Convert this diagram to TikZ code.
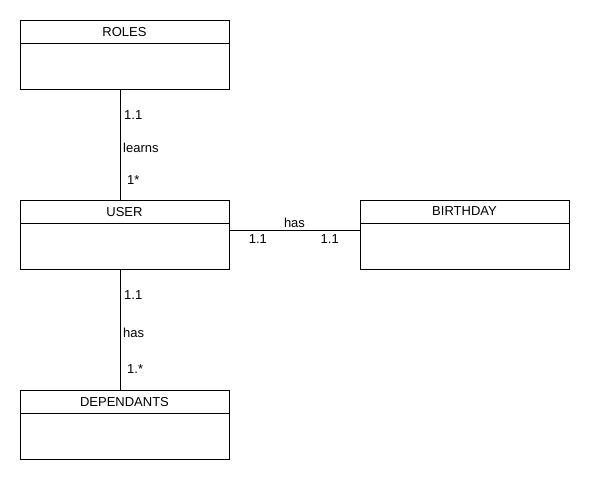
\documentclass[tikz,border=0pt]{standalone}
\usepackage{fontspec}
\setmainfont{Liberation Sans}
\begin{document}
\begin{tikzpicture}[x=1pt,y=-1pt,
  head/.style={draw, minimum width=209pt, minimum height=23pt, inner sep=0pt, text depth=0pt},
  body/.style={draw, minimum width=209pt, minimum height=46pt, inner sep=0pt},
  lab/.style={inner sep=2pt}]
\useasboundingbox (0,0) rectangle (590,480);
\fontsize{13}{15}\selectfont
\node[head] (rolesH) at (124.5,31.5) {ROLES};
\node[body] (rolesB) at (124.5,66) {};
\node[head] (userH) at (124.5,211.5) {USER};
\node[body] (userB) at (124.5,246) {};
\node[head] (birthH) at (464.5,211.5) {BIRTHDAY};
\node[body] (birthB) at (464.5,246) {};
\node[head] (depH) at (124.5,401.5) {DEPENDANTS};
\node[body] (depB) at (124.5,436) {};

\draw ([xshift=-4.5pt]rolesB.south) -- node[lab, pos=0.23, right, xshift=2pt] {1.1}
  node[lab, pos=0.53, right, xshift=1pt] {learns}
  node[lab, pos=0.82, right, xshift=5pt] {1*} ([xshift=-4.5pt]userH.north);
\draw ([xshift=-4.5pt]userB.south) -- node[lab, pos=0.21, right, xshift=2pt] {1.1}
  node[lab, pos=0.53, right, xshift=1pt] {has}
  node[lab, pos=0.83, right, xshift=5pt] {1.*} ([xshift=-4.5pt]depH.north);
\draw ([yshift=-7pt]userB.north east) -- node[lab, pos=0.5, above] {has}
  node[lab, pos=0.22, below, yshift=-3pt] {1.1}
  node[lab, pos=0.77, below, yshift=-3pt] {1.1} ([yshift=-7pt]birthB.north west);
\end{tikzpicture}
\end{document}
